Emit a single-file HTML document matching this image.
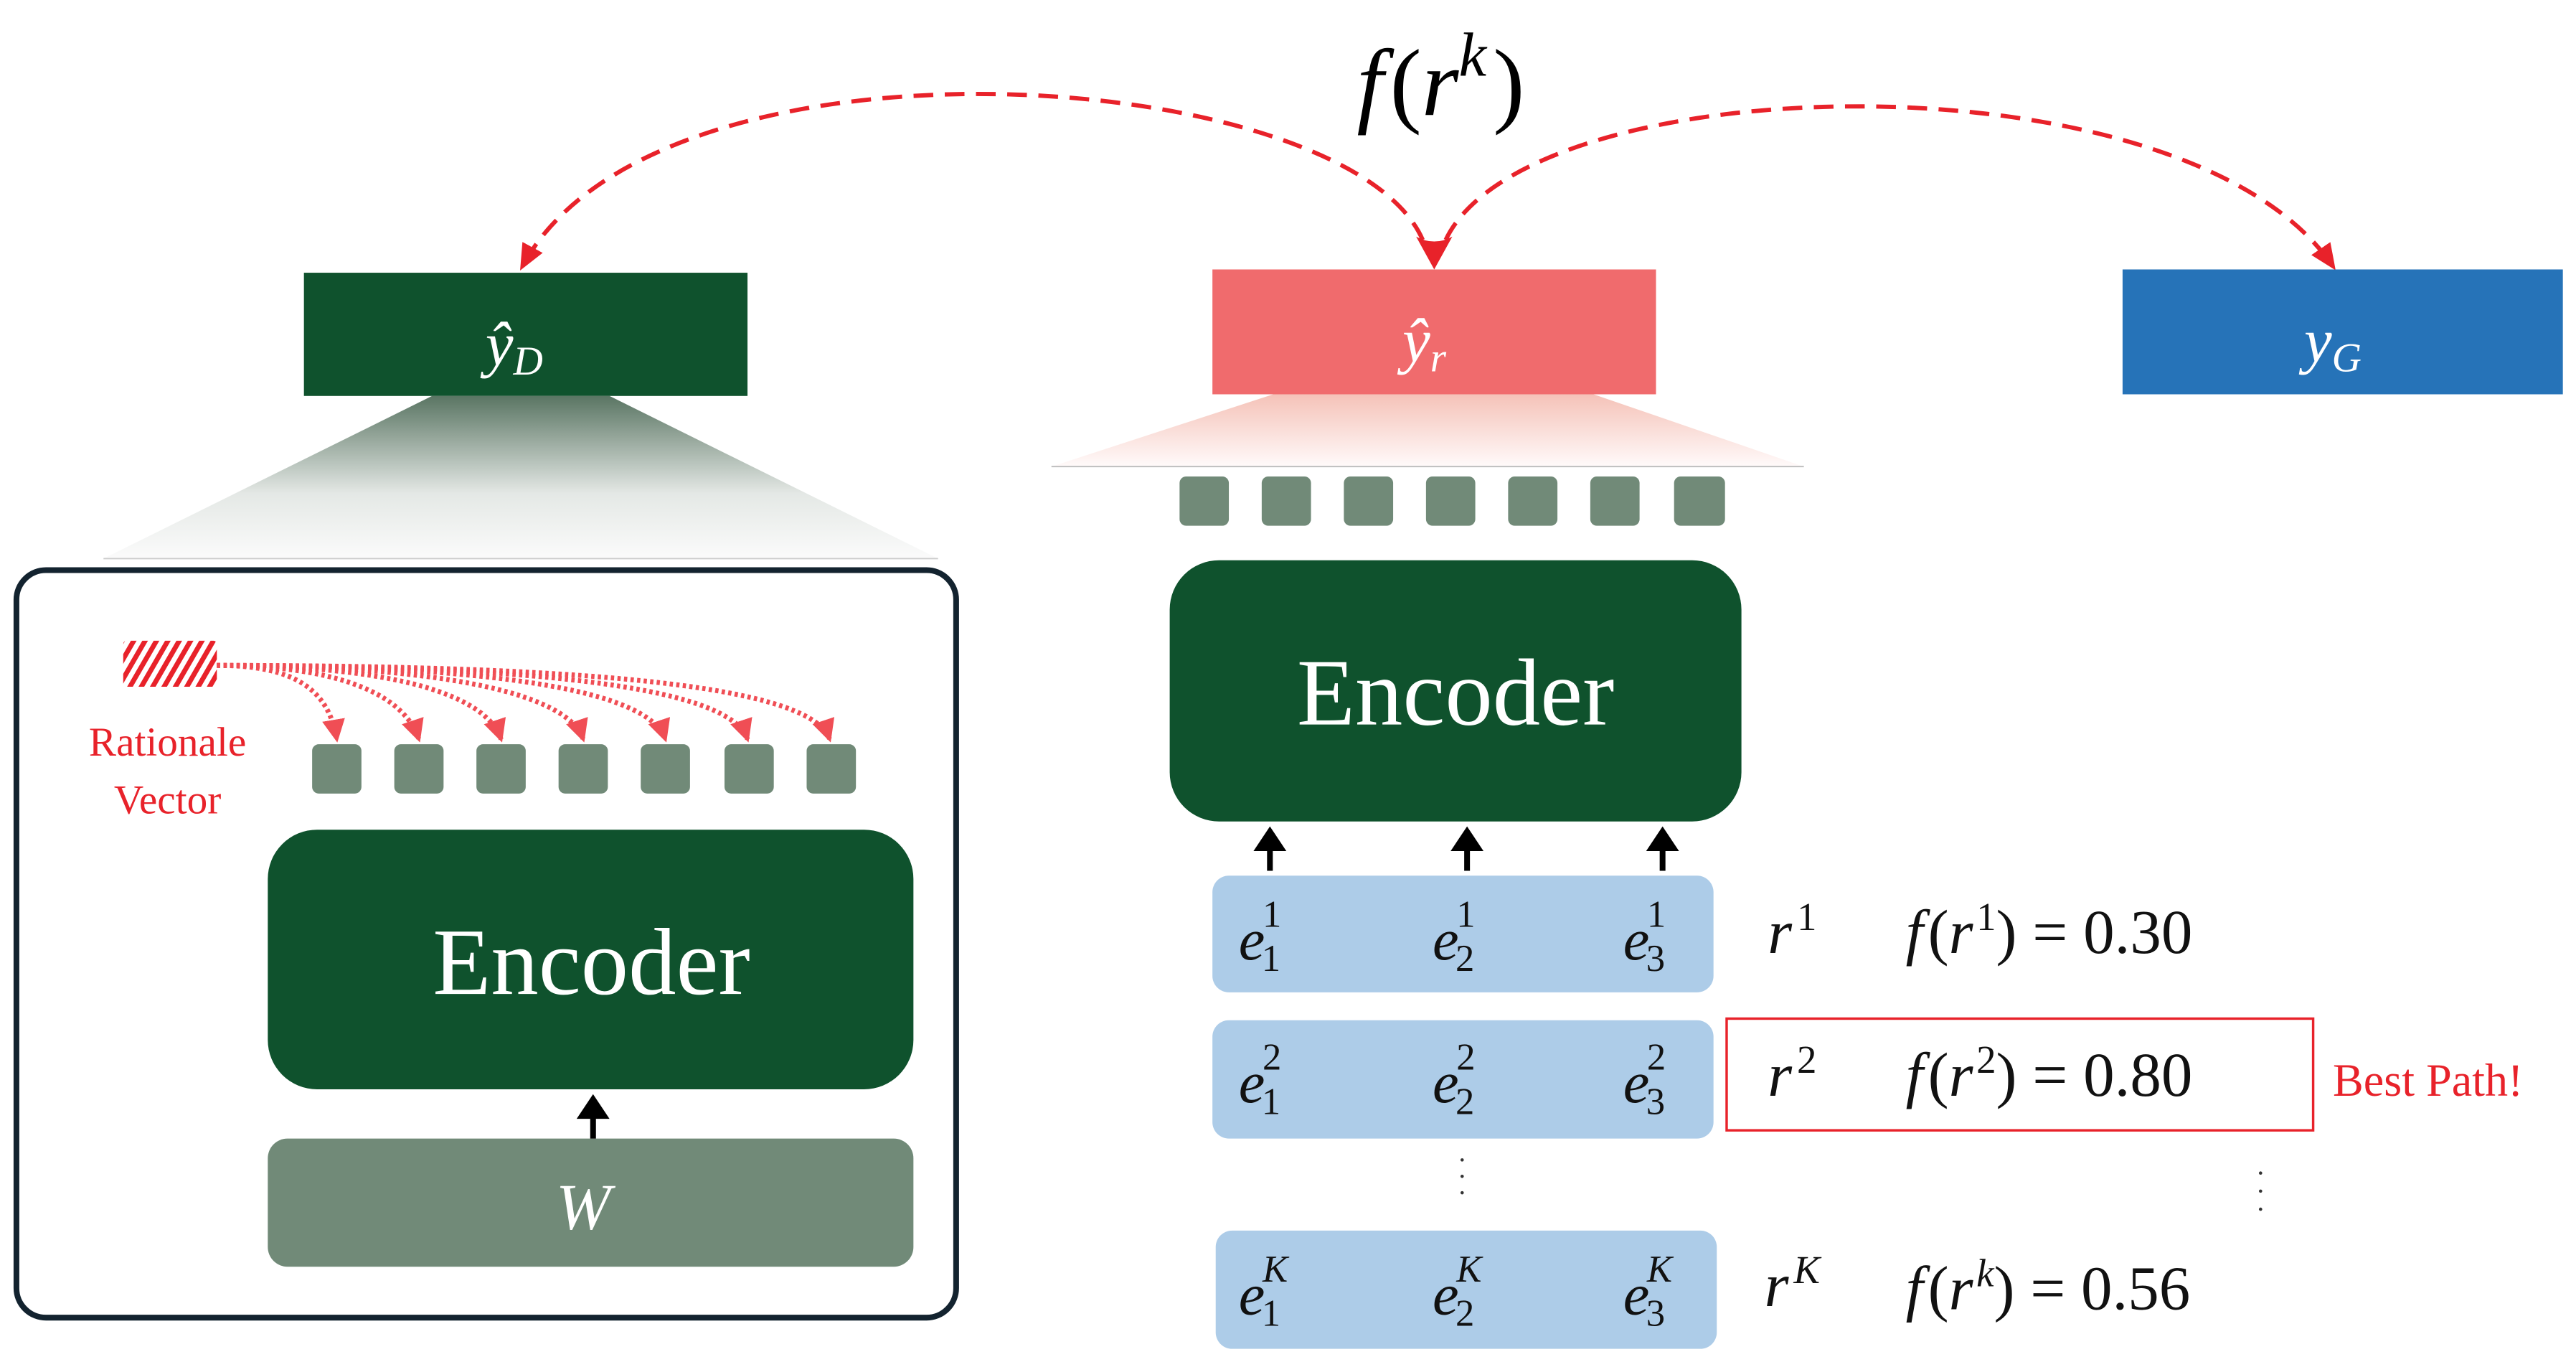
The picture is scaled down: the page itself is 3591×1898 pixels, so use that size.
<!DOCTYPE html>
<html><head><meta charset="utf-8"><style>
html,body{margin:0;padding:0;background:#fff;width:3591px;height:1898px;overflow:hidden}
svg{display:block}
text{font-family:"Liberation Serif",serif}
.m{font-style:italic}
</style></head><body>
<svg width="3591" height="1898" viewBox="0 0 1568 829" preserveAspectRatio="none">
<defs>
<linearGradient id="gg" x1="0" y1="0" x2="0" y2="1"><stop offset="0" stop-color="#5a7563"/><stop offset="0.6" stop-color="#e4e8e5"/><stop offset="1" stop-color="#fbfbfb"/></linearGradient>
<linearGradient id="gr" x1="0" y1="0" x2="0" y2="1"><stop offset="0" stop-color="#f5c2b8"/><stop offset="1" stop-color="#fffafa"/></linearGradient>
<pattern id="hatch" width="6" height="6" patternUnits="userSpaceOnUse" patternTransform="rotate(30)"><rect width="6" height="6" fill="#fff"/><rect width="3" height="6" fill="#e8222a"/></pattern>
<marker id="ah2" markerWidth="16" markerHeight="16" refX="13" refY="8" orient="auto" markerUnits="userSpaceOnUse" viewBox="0 0 16 16"><path d="M0,1 L16,8 L0,15 z" fill="#e8222a"/></marker>
<marker id="ah3" markerWidth="14" markerHeight="14" refX="12" refY="7" orient="auto" markerUnits="userSpaceOnUse" viewBox="0 0 14 14"><path d="M0,0 L14,7 L0,14 z" fill="#f04e55"/></marker>
</defs>

<text x="877" y="70" font-size="58" text-anchor="middle" class="m">f<tspan font-style="normal" dx="4">(</tspan>r<tspan dy="-24" font-size="38">k</tspan><tspan dy="24" font-style="normal" dx="4">)</tspan></text>

<path d="M866,146 C820,40 400,10 318,162" fill="none" stroke="#e8222a" stroke-width="2.6" stroke-dasharray="12,7" marker-end="url(#ah2)"/>
<path d="M880,146 C930,40 1330,30 1420,162" fill="none" stroke="#e8222a" stroke-width="2.6" stroke-dasharray="12,7" marker-end="url(#ah2)"/>
<path d="M862,144 L873,164 L884,144 Q873,150 862,144z" fill="#e8222a"/>

<rect x="185" y="166" width="270" height="75" fill="#0f522d"/>
<text x="313" y="222" font-size="38" fill="#fff" text-anchor="middle" class="m">ŷ<tspan font-size="25" dy="6">D</tspan></text>
<rect x="738" y="164" width="270" height="76" fill="#f06b6d"/>
<text x="867" y="220" font-size="38" fill="#fff" text-anchor="middle" class="m">ŷ<tspan font-size="25" dy="6">r</tspan></text>
<rect x="1292" y="164" width="268" height="76" fill="#2673b8"/>
<text x="1420" y="220" font-size="38" fill="#fff" text-anchor="middle" class="m">y<tspan font-size="25" dy="6">G</tspan></text>

<polygon points="263,241 371,241 571,340 63,340" fill="url(#gg)"/>
<line x1="63" y1="340" x2="571" y2="340" stroke="#ccc" stroke-width="0.8"/>
<polygon points="775,240 970,240 1098,284 640,284" fill="url(#gr)"/>
<line x1="640" y1="284" x2="1098" y2="284" stroke="#bbb" stroke-width="0.8"/>

<g fill="#718a78">
<rect x="718" y="290" width="30" height="30" rx="4"/><rect x="768" y="290" width="30" height="30" rx="4"/><rect x="818" y="290" width="30" height="30" rx="4"/><rect x="868" y="290" width="30" height="30" rx="4"/><rect x="918" y="290" width="30" height="30" rx="4"/><rect x="968" y="290" width="30" height="30" rx="4"/><rect x="1019" y="290" width="31" height="30" rx="4"/>
</g>
<rect x="712" y="341" width="348" height="159" rx="30" fill="#0f522d"/>
<text x="886" y="441" font-size="58" fill="#fff" text-anchor="middle">Encoder</text>

<rect x="10" y="347" width="572" height="455" rx="18" fill="#fff" stroke="#13232f" stroke-width="3.5"/>

<g stroke="#000" stroke-width="3.5"><line x1="773" y1="530" x2="773" y2="515"/><line x1="893" y1="530" x2="893" y2="515"/><line x1="1012" y1="530" x2="1012" y2="515"/></g>
<g fill="#000"><path d="M763,518 L773,503 L783,518z"/><path d="M883,518 L893,503 L903,518z"/><path d="M1002,518 L1012,503 L1022,518z"/></g>

<g fill="#adcce8"><rect x="738" y="533" width="305" height="71" rx="10"/><rect x="738" y="621" width="305" height="72" rx="10"/><rect x="740" y="749" width="305" height="72" rx="10"/></g>
<g font-size="36" class="m" fill="#111">
<text x="754" y="584">e<tspan font-size="23" dx="-2" dy="7" font-style="normal">1</tspan><tspan font-size="23" dx="-11" dy="-27" font-style="normal">1</tspan></text>
<text x="872" y="584">e<tspan font-size="23" dx="-2" dy="7" font-style="normal">2</tspan><tspan font-size="23" dx="-11" dy="-27" font-style="normal">1</tspan></text>
<text x="988" y="584">e<tspan font-size="23" dx="-2" dy="7" font-style="normal">3</tspan><tspan font-size="23" dx="-11" dy="-27" font-style="normal">1</tspan></text>
<text x="754" y="671">e<tspan font-size="23" dx="-2" dy="7" font-style="normal">1</tspan><tspan font-size="23" dx="-11" dy="-27" font-style="normal">2</tspan></text>
<text x="872" y="671">e<tspan font-size="23" dx="-2" dy="7" font-style="normal">2</tspan><tspan font-size="23" dx="-11" dy="-27" font-style="normal">2</tspan></text>
<text x="988" y="671">e<tspan font-size="23" dx="-2" dy="7" font-style="normal">3</tspan><tspan font-size="23" dx="-11" dy="-27" font-style="normal">2</tspan></text>
<text x="754" y="800">e<tspan font-size="23" dx="-2" dy="7" font-style="normal">1</tspan><tspan font-size="23" dx="-11" dy="-27">K</tspan></text>
<text x="872" y="800">e<tspan font-size="23" dx="-2" dy="7" font-style="normal">2</tspan><tspan font-size="23" dx="-11" dy="-27">K</tspan></text>
<text x="988" y="800">e<tspan font-size="23" dx="-2" dy="7" font-style="normal">3</tspan><tspan font-size="23" dx="-11" dy="-27">K</tspan></text>
</g>
<g font-size="38" fill="#111">
<text x="1076" y="580" class="m">r<tspan font-size="24" dy="-14" dx="3" font-style="normal">1</tspan></text>
<text x="1160" y="580"><tspan font-style="italic">f</tspan><tspan dx="3">(</tspan><tspan font-style="italic">r</tspan><tspan font-size="24" dy="-14" dx="2">1</tspan><tspan dy="14">) = 0.30</tspan></text>
<text x="1076" y="667" class="m">r<tspan font-size="24" dy="-14" dx="3" font-style="normal">2</tspan></text>
<text x="1160" y="667"><tspan font-style="italic">f</tspan><tspan dx="3">(</tspan><tspan font-style="italic">r</tspan><tspan font-size="24" dy="-14" dx="2">2</tspan><tspan dy="14">) = 0.80</tspan></text>
<text x="1074" y="795" class="m">r<tspan font-size="24" dy="-14" dx="3">K</tspan></text>
<text x="1160" y="797"><tspan font-style="italic">f</tspan><tspan dx="3">(</tspan><tspan font-style="italic">r</tspan><tspan font-size="24" dy="-14" dx="2" font-style="italic">k</tspan><tspan dy="14">) =  0.56</tspan></text>
</g>
<rect x="1051" y="620" width="357" height="68" fill="none" stroke="#e8222a" stroke-width="1.5"/>
<text x="1420" y="667" font-size="28" fill="#e8222a">Best Path!</text>
<g fill="#333"><circle cx="890" cy="706" r="1"/><circle cx="890" cy="716" r="1"/><circle cx="890" cy="726" r="1"/><circle cx="1376" cy="714" r="1"/><circle cx="1376" cy="725" r="1"/><circle cx="1376" cy="736" r="1"/></g>

<rect x="75" y="390" width="57" height="28" rx="2" fill="url(#hatch)"/>
<g fill="none" stroke="#f04e55" stroke-width="3" stroke-dasharray="2,2">
<path d="M132,405 C180,405 200,420 205,450" marker-end="url(#ah3)"/>
<path d="M132,405 C200,405 245,420 255,450" marker-end="url(#ah3)"/>
<path d="M132,405 C230,405 295,420 305,450" marker-end="url(#ah3)"/>
<path d="M132,405 C260,405 345,420 355,450" marker-end="url(#ah3)"/>
<path d="M132,405 C300,405 395,420 405,450" marker-end="url(#ah3)"/>
<path d="M132,405 C340,405 445,420 455,450" marker-end="url(#ah3)"/>
<path d="M132,405 C380,405 495,420 505,450" marker-end="url(#ah3)"/>
</g>
<g fill="#718a78">
<rect x="190" y="453" width="30" height="30" rx="4"/><rect x="240" y="453" width="30" height="30" rx="4"/><rect x="290" y="453" width="30" height="30" rx="4"/><rect x="340" y="453" width="30" height="30" rx="4"/><rect x="390" y="453" width="30" height="30" rx="4"/><rect x="441" y="453" width="30" height="30" rx="4"/><rect x="491" y="453" width="30" height="30" rx="4"/>
</g>
<text x="102" y="460" font-size="25" fill="#e8222a" text-anchor="middle">Rationale</text>
<text x="102" y="495" font-size="25" fill="#e8222a" text-anchor="middle">Vector</text>
<rect x="163" y="505" width="393" height="158" rx="30" fill="#0f522d"/>
<text x="360" y="605" font-size="58" fill="#fff" text-anchor="middle">Encoder</text>
<rect x="163" y="693" width="393" height="78" rx="12" fill="#718a78"/>
<text x="355" y="748" font-size="40" fill="#fff" text-anchor="middle" class="m">W</text>
<g stroke="#000" stroke-width="3.5"><line x1="361" y1="693" x2="361" y2="678"/></g>
<path d="M351,681 L361,666 L371,681z" fill="#000"/>
</svg>
</body></html>
